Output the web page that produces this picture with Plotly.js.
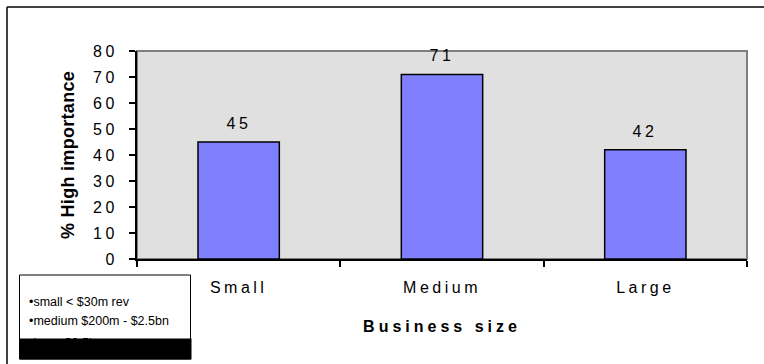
<!DOCTYPE html>
<html>
<head>
<meta charset="utf-8">
<script src="https://cdn.plot.ly/plotly-3.0.1.min.js"></script>
<style>
  html, body { margin: 0; padding: 0; background: #ffffff; }
  #chart { width: 764px; height: 364px; }
  .xtick text { letter-spacing: 3.5px; }
  .ytick text { letter-spacing: 3.5px; }
  .g-xtitle text { letter-spacing: 4px; }
  .g-ytitle text { letter-spacing: 0.3px; }
  .annotation[data-index="0"] text,
  .annotation[data-index="1"] text,
  .annotation[data-index="2"] text { letter-spacing: 3.5px; }
</style>
</head>
<body>
<div id="chart"></div>
<script>
const categories = ['Small', 'Medium', 'Large'];
const values = [45, 71, 42];
const valueLabels = ['45', '71', '42'];
const yTickValues = [0, 10, 20, 30, 40, 50, 60, 70, 80];
const noteLines = ['•small &lt; $30m rev', '•medium $200m - $2.5bn', '•large $2.5bn+'];

const FONT = 'Liberation Sans, Arial, sans-serif';

const trace = {
  type: 'bar',
  x: categories,
  y: values,
  width: 0.4,
  marker: { color: '#8080ff', line: { color: '#000000', width: 1.5 } },
  hoverinfo: 'skip'
};

const annotations = categories.map((c, i) => ({
  x: c, y: values[i], xref: 'x', yref: 'y',
  text: valueLabels[i], showarrow: false,
  yanchor: 'bottom', yshift: 8,
  font: { family: FONT, size: 16, color: '#000000' }
}));

const noteShift = [-43, -62, -84];
noteLines.forEach((t, i) => {
  annotations.push({
    x: 0, y: 0, xref: 'paper', yref: 'paper',
    xanchor: 'left', yanchor: 'middle',
    xshift: -110, yshift: noteShift[i],
    text: t, showarrow: false,
    font: { family: FONT, size: 12.5, color: '#000000' }
  });
});
// black band at the bottom of the note box (covers the cut third line)
annotations.push({
  x: 0, y: 0, xref: 'paper', yref: 'paper',
  xanchor: 'center', yanchor: 'middle',
  xshift: -32, yshift: -89.5,
  text: ' ', showarrow: false, width: 171, height: 20,
  bgcolor: '#000000', borderpad: 0,
  font: { family: FONT, size: 10, color: '#000000' }
});

const shapes = [
  { type: 'rect', xref: 'paper', yref: 'paper', x0: 0, x1: 1, y0: 0, y1: 1,
    line: { color: '#808080', width: 2 }, fillcolor: 'rgba(0,0,0,0)', layer: 'below' },
  { type: 'line', xref: 'paper', yref: 'paper', xsizemode: 'pixel', ysizemode: 'pixel',
    xanchor: 0, yanchor: 0, x0: -130, x1: 700, y0: 252, y1: 252,
    line: { color: '#000000', width: 1.5 } },
  { type: 'line', xref: 'paper', yref: 'paper', xsizemode: 'pixel', ysizemode: 'pixel',
    xanchor: 0, yanchor: 0, x0: -130, x1: -130, y0: 252, y1: -200,
    line: { color: '#000000', width: 1.5 } },
  { type: 'rect', xref: 'paper', yref: 'paper', xsizemode: 'pixel', ysizemode: 'pixel',
    xanchor: 0, yanchor: 0, x0: -117.5, x1: 53.5, y0: -100, y1: -16,
    line: { color: '#000000', width: 1 }, fillcolor: '#ffffff' }
];

const layout = {
  width: 764, height: 364,
  margin: { l: 137, r: 17, t: 51, b: 105, pad: 0 },
  paper_bgcolor: '#ffffff',
  plot_bgcolor: '#e0e0e0',
  showlegend: false,
  font: { family: FONT, color: '#000000' },
  xaxis: {
    type: 'category',
    showgrid: false, zeroline: false,
    showline: true, linecolor: '#000000', linewidth: 2,
    ticks: 'outside', ticklen: 6, tickwidth: 2, tickcolor: '#000000',
    tickson: 'boundaries',
    ticklabelstandoff: 13,
    tickfont: { family: FONT, size: 16, color: '#000000' },
    title: { text: 'Business size', standoff: 26,
      font: { family: FONT, size: 16, color: '#000000', weight: 'bold' } },
    fixedrange: true
  },
  yaxis: {
    range: [0, 80],
    tickvals: yTickValues,
    ticktext: yTickValues.map(String),
    showgrid: false, zeroline: false,
    showline: true, linecolor: '#000000', linewidth: 2,
    ticks: 'outside', ticklen: 6, tickwidth: 2, tickcolor: '#000000',
    ticklabelstandoff: 8,
    tickfont: { family: FONT, size: 16, color: '#000000' },
    title: { text: '% High importance', standoff: 14,
      font: { family: FONT, size: 18, color: '#000000', weight: 'bold' } },
    fixedrange: true
  },
  annotations: annotations,
  shapes: shapes
};

Plotly.newPlot('chart', [trace], layout, { displayModeBar: false, staticPlot: true });
</script>
</body>
</html>
